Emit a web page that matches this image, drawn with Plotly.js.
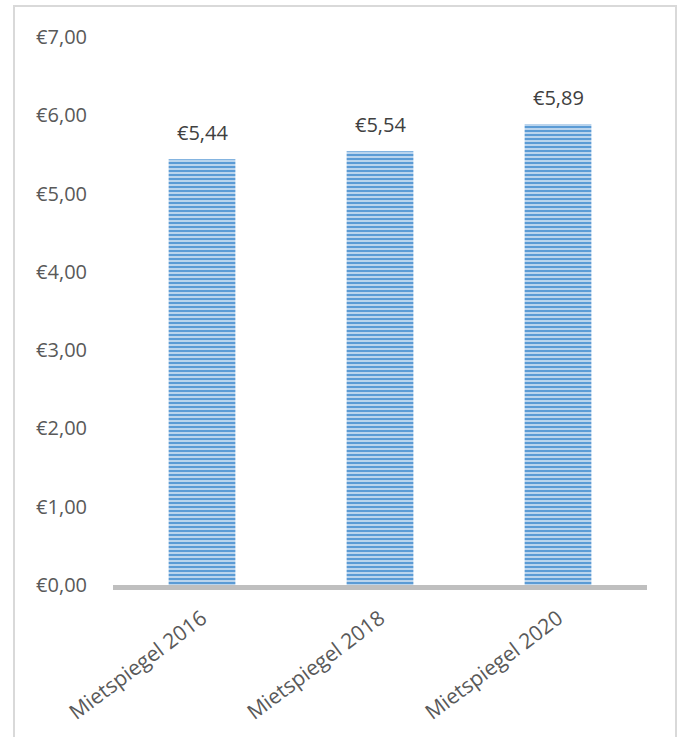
<!DOCTYPE html>
<html>
<head>
<meta charset="utf-8">
<script src="https://cdn.plot.ly/plotly-3.0.1.min.js"></script>
<style>html,body{margin:0;padding:0;background:#fff;}#chart{width:681px;height:737px;}</style>
</head>
<body>
<div id="chart"></div>
<script>
const categories = ["Mietspiegel 2016", "Mietspiegel 2018", "Mietspiegel 2020"];
const values = [5.44, 5.54, 5.89];
const yTicks = [0, 1, 2, 3, 4, 5, 6, 7];

const W = 681, H = 737;
const m = {l: 113, r: 34, t: 37, b: 152};
const pw = W - m.l - m.r, ph = H - m.t - m.b;
const px = v => (v - m.l) / pw;
const py = v => (H - m.b - v) / ph;
const euro = v => '€' + v.toFixed(2).replace('.', ',');
const FONT = '"Open Sans", "Noto Sans", sans-serif';

const trace = {
  type: 'bar',
  x: categories,
  y: values,
  width: 0.375,
  marker: {
    color: '#c5dbf0',
    line: {width: 0},
    pattern: {shape: '-', size: 4, solidity: 0.55, fgcolor: '#5b9bd5', bgcolor: '#c5dbf0'}
  },
  hoverinfo: 'none'
};

const annotations = categories.map((c, i) => ({
  x: c, y: values[i], xref: 'x', yref: 'y',
  text: euro(values[i]), showarrow: false,
  yanchor: 'bottom', yshift: 11,
  font: {family: FONT, size: 20, color: '#404040'}
}));

const layout = {
  width: W, height: H,
  margin: m,
  paper_bgcolor: '#ffffff',
  plot_bgcolor: '#ffffff',
  showlegend: false,
  font: {family: FONT, size: 20, color: '#595959'},
  xaxis: {
    type: 'category',
    tickangle: -37,
    showgrid: false,
    showline: true,
    linecolor: '#bfbfbf',
    linewidth: 5,
    ticks: '',
    ticklabelstandoff: 8,
    tickfont: {family: FONT, size: 21, color: '#595959'},
    zeroline: false
  },
  yaxis: {
    range: [0, 7],
    tickvals: yTicks,
    ticktext: yTicks.map(euro),
    showgrid: false,
    zeroline: false,
    showline: false,
    ticks: '',
    ticklabelstandoff: 25,
    tickfont: {family: FONT, size: 20, color: '#595959'}
  },
  annotations: annotations,
  shapes: [{
    type: 'rect', xref: 'paper', yref: 'paper',
    x0: px(14), x1: px(676), y0: py(745), y1: py(6),
    line: {color: '#d9d9d9', width: 2}, fillcolor: 'rgba(0,0,0,0)', layer: 'below'
  }]
};

Plotly.newPlot('chart', [trace], layout, {staticPlot: true, displayModeBar: false});
</script>
</body>
</html>
